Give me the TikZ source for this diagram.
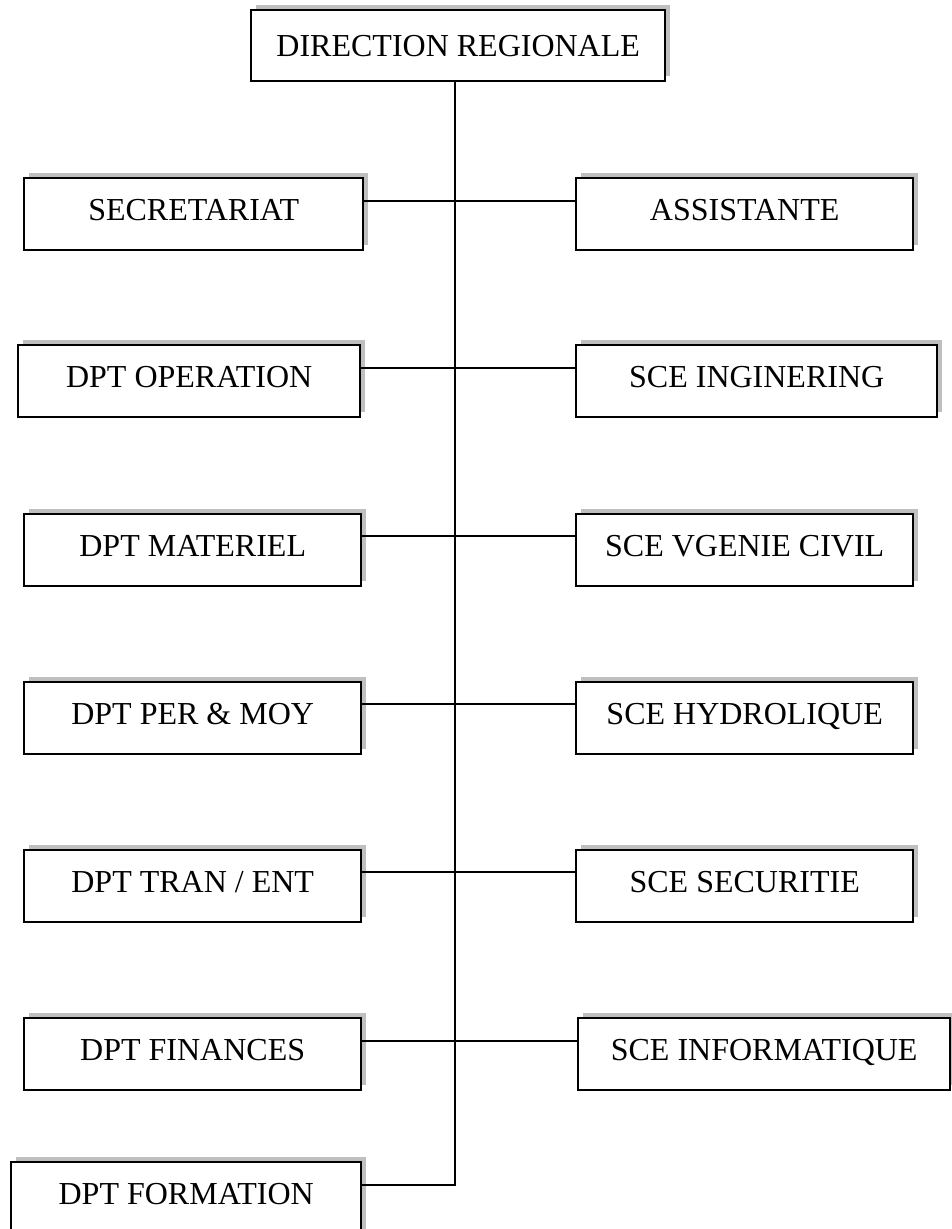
\documentclass[tikz,border=0pt]{standalone}
\usepackage{fontspec}
\setmainfont{Liberation Serif}
\usetikzlibrary{shadows}
\tikzset{
  orgbox/.style={draw, line width=2.4pt, fill=white, anchor=north west,
    minimum height=72pt, inner sep=0pt, text height=22pt, text depth=10pt,
    font=\fontsize{32}{38}\selectfont,
    general shadow={fill=gray!50, shadow xshift=5pt, shadow yshift=5pt}},
  link/.style={line width=2.4pt}
}
\begin{document}
\begin{tikzpicture}[x=1pt,y=-1pt]
  \clip (0,0) rectangle (952,1229);
  \useasboundingbox (0,0) rectangle (952,1229);
  % head of the chart
  \node[orgbox, minimum width=414pt, minimum height=71pt, text depth=0pt] (dr) at (250,9) {DIRECTION REGIONALE};
  % left column
  \node[orgbox, minimum width=339pt] (sec) at (23,177)  {SECRETARIAT};
  \node[orgbox, minimum width=342pt] (ope) at (17,344)  {DPT OPERATION};
  \node[orgbox, minimum width=337pt] (mat) at (23,513)  {DPT MATERIEL};
  \node[orgbox, minimum width=337pt] (per) at (23,681)  {DPT PER \& MOY};
  \node[orgbox, minimum width=337pt] (tra) at (23,849)  {DPT TRAN / ENT};
  \node[orgbox, minimum width=337pt] (fin) at (23,1017) {DPT FINANCES};
  \node[orgbox, minimum width=350pt] (frm) at (10,1161) {DPT FORMATION};
  % right column
  \node[orgbox, minimum width=337pt] (ass) at (575,177)  {ASSISTANTE};
  \node[orgbox, minimum width=361pt] (ing) at (575,344)  {SCE INGINERING};
  \node[orgbox, minimum width=337pt] (gen) at (575,513)  {SCE VGENIE CIVIL};
  \node[orgbox, minimum width=337pt] (hyd) at (575,681)  {SCE HYDROLIQUE};
  \node[orgbox, minimum width=337pt] (sct) at (575,849)  {SCE SECURITIE};
  \node[orgbox, minimum width=372pt] (inf) at (577,1017) {SCE INFORMATIQUE};
  % junctions on the spine
  \coordinate (j0) at (455,80);
  \coordinate (j1) at (455,201);
  \coordinate (j2) at (455,368);
  \coordinate (j3) at (455,536);
  \coordinate (j4) at (455,704);
  \coordinate (j5) at (455,872);
  \coordinate (j6) at (455,1041);
  \coordinate (j7) at (455,1185);
  % spine
  \draw[link] (dr.south -| j0) -- (j7) -- (frm.east |- j7);
  % branches
  \draw[link] (sec.east |- j1) -- (ass.west |- j1);
  \draw[link] (ope.east |- j2) -- (ing.west |- j2);
  \draw[link] (mat.east |- j3) -- (gen.west |- j3);
  \draw[link] (per.east |- j4) -- (hyd.west |- j4);
  \draw[link] (tra.east |- j5) -- (sct.west |- j5);
  \draw[link] (fin.east |- j6) -- (inf.west |- j6);
\end{tikzpicture}
\end{document}
